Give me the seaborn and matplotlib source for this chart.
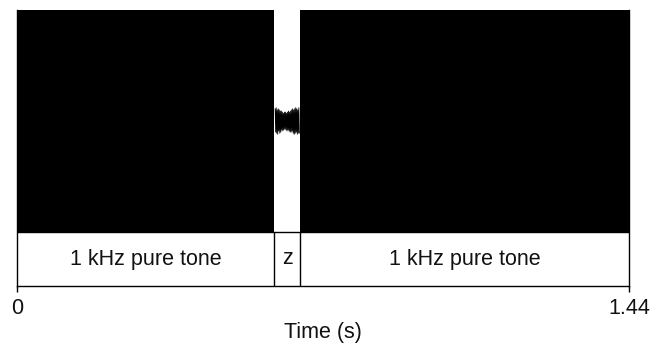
import matplotlib
matplotlib.use("Agg")
import matplotlib.pyplot as plt
import seaborn as sns
import pandas as pd
import numpy as np

# ---- data ----
seg_start = [0.0, 0.605, 0.666]
seg_end = [0.605, 0.666, 1.44]
seg_labels = ["1 kHz pure tone", "z", "1 kHz pure tone"]
seg_amp = [1.0, 0.0, 1.0]          # tone envelope (solid at this resolution)
noise_vals = [0.11, -0.10, 0.12, -0.11, 0.10, -0.12, 0.11, -0.09, 0.10, -0.11,
              0.09, -0.10, 0.09, -0.08, 0.08, -0.09, 0.07, -0.08, 0.08, -0.07,
              0.08, -0.08, 0.07, -0.09, 0.08, -0.08, 0.09, -0.09, 0.08, -0.10,
              0.09, -0.10, 0.10, -0.09, 0.11, -0.11, 0.10, -0.12, 0.11, -0.11,
              0.12, -0.10, 0.11, -0.12, 0.10, -0.11, 0.12, -0.11]
x_ticks = [0, 1.44]
x_ticklabels = ["0", "1.44"]

sns.set_theme(style="white")
plt.rcParams['font.family'] = ['Liberation Sans', 'DejaVu Sans']

W, H = 667, 344
fig = plt.figure(figsize=(W / 100, H / 100), dpi=100)
left, right, top, bottom = 17.3, 629, 10, 286
ax = fig.add_axes([left / W, (H - bottom) / H, (right - left) / W, (bottom - top) / H])

wave_bottom_px = 232
unit = (wave_bottom_px - top) / 2.0
ymin = -1 - (bottom - wave_bottom_px) / unit

# tone segments
for s, e, a in zip(seg_start, seg_end, seg_amp):
    if a > 0:
        ax.fill_between([s, e], [-a, -a], [a, a], color="black", linewidth=0)

# noise in the gap
n = len(noise_vals)
g0, g1 = seg_start[1], seg_end[1]
noise_t = g0 + 0.002 + (g1 - g0 - 0.004) * np.arange(n) / (n - 1)
df = pd.DataFrame({"t": noise_t, "v": noise_vals})
sns.lineplot(data=df, x="t", y="v", ax=ax, color="black", linewidth=0.6)

# label box
ax.axhline(-1, color="black", linewidth=1)
for b in seg_start[1:]:
    ax.plot([b, b], [ymin, -1], color="black", linewidth=1)
label_y = (-1 + ymin) / 2
for s, e, lab in zip(seg_start, seg_end, seg_labels):
    ax.text((s + e) / 2, label_y, lab, ha="center", va="center", fontsize=15.5, color="#111111")

ax.set_xlim(0, 1.44)
ax.set_ylim(ymin, 1)
ax.set_yticks([])
ax.set_xticks(x_ticks)
ax.set_xticklabels(x_ticklabels, fontsize=15.5, color="#111111")
ax.tick_params(axis="x", direction="out", length=4, width=1, color="black", pad=5, bottom=True)
ax.set_xlabel("Time (s)", fontsize=15.5, color="#111111", labelpad=2)
ax.set_ylabel("")
for sp in ["left", "right", "bottom"]:
    ax.spines[sp].set_visible(True)
    ax.spines[sp].set_color("black")
    ax.spines[sp].set_linewidth(1)
ax.spines["top"].set_visible(False)

fig.savefig("out.png", dpi=100)
